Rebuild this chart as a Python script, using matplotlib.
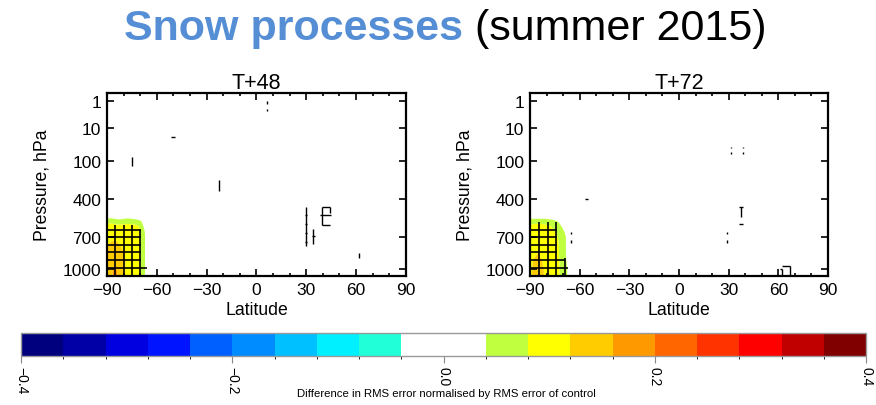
import numpy as np
import matplotlib
matplotlib.use("Agg")
import matplotlib.pyplot as plt
from matplotlib.colors import ListedColormap, BoundaryNorm
from matplotlib.cm import ScalarMappable
from matplotlib import font_manager

# ---------------- data ----------------
panel_titles = ["T+48", "T+72"]
lat_ticks = [-90, -60, -30, 0, 30, 60, 90]
p_ticks = [1, 10, 100, 400, 700, 1000]
p_tick_labels = ["1", "10", "100", "400", "700", "1000"]

blob_lats = [-90, -87.5, -85, -82.5, -80, -77.5, -75, -72.5, -70, -67.5, -65]
blob_levels = [480, 530, 560, 600, 650, 700, 775, 850, 925, 1000, 1080]

diff_t48 = [
    [0, 0, 0, 0, 0, 0, 0, 0, 0, 0, 0],
    [0.035, 0.035, 0.03, 0.025, 0.03, 0.035, 0.03, 0.025, 0.015, 0, 0],
    [0.07, 0.07, 0.065, 0.06, 0.065, 0.07, 0.065, 0.062, 0.05, 0.02, 0],
    [0.095, 0.095, 0.09, 0.09, 0.09, 0.09, 0.09, 0.088, 0.075, 0.03, 0],
    [0.10, 0.105, 0.105, 0.10, 0.10, 0.10, 0.095, 0.092, 0.082, 0.045, 0],
    [0.11, 0.115, 0.115, 0.11, 0.108, 0.102, 0.098, 0.092, 0.083, 0.048, 0],
    [0.118, 0.125, 0.128, 0.122, 0.115, 0.108, 0.10, 0.092, 0.083, 0.048, 0],
    [0.125, 0.135, 0.138, 0.13, 0.122, 0.112, 0.10, 0.092, 0.083, 0.048, 0],
    [0.13, 0.145, 0.152, 0.138, 0.125, 0.115, 0.10, 0.092, 0.083, 0.048, 0],
    [0.13, 0.152, 0.17, 0.142, 0.125, 0.112, 0.10, 0.09, 0.082, 0.048, 0],
    [0.13, 0.155, 0.175, 0.145, 0.125, 0.112, 0.10, 0.09, 0.082, 0.048, 0],
]
diff_t72 = [
    [0, 0, 0, 0, 0, 0, 0, 0, 0, 0, 0],
    [0.03, 0.03, 0.03, 0.03, 0.03, 0.025, 0.02, 0.01, 0, 0, 0],
    [0.065, 0.07, 0.07, 0.07, 0.065, 0.06, 0.05, 0.035, 0.01, 0, 0],
    [0.085, 0.09, 0.09, 0.09, 0.085, 0.08, 0.07, 0.055, 0.03, 0, 0],
    [0.09, 0.095, 0.095, 0.095, 0.09, 0.085, 0.08, 0.07, 0.048, 0.02, 0],
    [0.095, 0.10, 0.10, 0.10, 0.095, 0.09, 0.085, 0.078, 0.06, 0.03, 0],
    [0.10, 0.105, 0.11, 0.105, 0.10, 0.095, 0.088, 0.08, 0.062, 0.03, 0],
    [0.105, 0.115, 0.122, 0.112, 0.105, 0.095, 0.088, 0.08, 0.062, 0.03, 0],
    [0.11, 0.125, 0.135, 0.12, 0.11, 0.10, 0.088, 0.082, 0.062, 0.035, 0],
    [0.11, 0.13, 0.16, 0.125, 0.11, 0.10, 0.088, 0.082, 0.065, 0.04, 0],
    [0.11, 0.13, 0.165, 0.125, 0.11, 0.10, 0.088, 0.082, 0.065, 0.04, 0],
]

# significance hatching (vertical lines: lat, top pressure; horizontal lines: pressure, east edge)
sig_lats_t48 = [-85, -80, -75, -70]
sig_tops_t48 = [592, 592, 592, 630]
sig_levels_t48 = [630, 703, 766, 830, 903, 982]
sig_east_t48 = [-69.5, -69.5, -69.5, -69.5, -69.5, -66]

sig_lats_t72 = [-84.5, -79.3, -74.2, -69]
sig_tops_t72 = [560, 560, 560, 885]
sig_levels_t72 = [630, 703, 766, 830, 903, 982]
sig_east_t72 = [-73.5, -73.5, -73.5, -73.5, -68.9, -66.9]

# isolated significance marks: vertical (lat, p0, p1), horizontal (p, lat0, lat1)
marks_v_t48 = [(6.5, 1.0, 1.25), (6.5, 2.0, 2.4), (-75, 76, 120), (-22.5, 204, 305),
               (30, 451, 772), (34.3, 624, 757), (39.2, 451, 593), (44.2, 451, 490),
               (61.5, 840, 880)]
marks_h_t48 = [(19, -51.7, -49.0), (512, 29.3, 30.7), (578, 29.3, 30.7), (664, 29.3, 30.7),
               (743, 29.3, 30.7), (690, 33.6, 35.0), (451, 39.2, 44.2), (512, 38.5, 45.0),
               (593, 39.2, 44.2)]
marks_v_t72 = [(31.4, 38, 43), (31.4, 55, 63), (38.8, 38, 43), (38.8, 55, 63),
               (37.4, 451, 523), (-65.4, 655, 670), (-65.4, 730, 748),
               (28.8, 655, 670), (28.8, 730, 748), (62, 1000, 1077), (67.2, 969, 1077)]
marks_h_t72 = [(400, -56.8, -55.0), (451, 36.4, 38.8), (578, 36.4, 38.4),
               (969, 62.5, 67.2), (1000, 61.2, 62.5)]

cbar_ticks = [-0.4, -0.2, 0.0, 0.2, 0.4]
cbar_tick_labels = ["\u22120.4", "\u22120.2", "0.0", "0.2", "0.4"]
bounds = np.round(np.arange(-0.4, 0.4001, 0.04), 3)
colors = ["#00007F", "#0000A6", "#0000E0", "#0014FF", "#0060FF", "#008CFF",
          "#00C0FF", "#00F0FF", "#20FFD8", "#FFFFFF", "#FFFFFF", "#C0FF40",
          "#FFFF00", "#FFCC00", "#FF9900", "#FF6600", "#FF3300", "#FF0000",
          "#C00000", "#800000"]

# ---------------- style ----------------
names = {f.name for f in font_manager.fontManager.ttflist}
plt.rcParams["font.family"] = ["Liberation Sans", "DejaVu Sans"]
narrow = "Liberation Sans Narrow" in names

# nonlinear pressure axis (position of each labelled pressure, as fraction from top)
knot_logp = np.log10([0.1, 1, 10, 100, 400, 700, 1000, 2000])
knot_pos = np.array([-0.097, 0.046, 0.189, 0.369, 0.578, 0.785, 0.963, 1.309])


def fwd(p):
    p = np.clip(np.asarray(p, dtype=float), 1e-3, None)
    return np.interp(np.log10(p), knot_logp, knot_pos)


def inv(y):
    return 10 ** np.interp(np.asarray(y, dtype=float), knot_pos, knot_logp)


cmap = ListedColormap(colors)
norm = BoundaryNorm(bounds, cmap.N)

fig = plt.figure(figsize=(8.76, 4.06), dpi=100)
axes_rects = [[0.1221, 0.3177, 0.3413, 0.4507], [0.6050, 0.3177, 0.3402, 0.4507]]
fields = [diff_t48, diff_t72]
sigs = [(sig_lats_t48, sig_tops_t48, sig_levels_t48, sig_east_t48),
        (sig_lats_t72, sig_tops_t72, sig_levels_t72, sig_east_t72)]
marks = [(marks_v_t48, marks_h_t48), (marks_v_t72, marks_h_t72)]

for i in range(2):
    ax = fig.add_axes(axes_rects[i])
    ax.set_yscale("function", functions=(fwd, inv))
    ax.contourf(blob_lats, blob_levels, np.array(fields[i]), levels=bounds,
                cmap=cmap, norm=norm, antialiased=True)
    lw = 1.2
    slats, stops, slev, seast = sigs[i]
    for la, tp in zip(slats, stops):
        ax.plot([la, la], [tp, 1077], color="black", lw=lw, solid_capstyle="butt")
    for pv, ea in zip(slev, seast):
        ax.plot([-90, ea], [pv, pv], color="black", lw=lw, solid_capstyle="butt")
    mv, mh = marks[i]
    for la, p0, p1 in mv:
        ax.plot([la, la], [p0, p1], color="black", lw=1.0, solid_capstyle="butt")
    for pv, l0, l1 in mh:
        ax.plot([l0, l1], [pv, pv], color="black", lw=1.0, solid_capstyle="butt")

    ax.set_xlim(-90, 90)
    ax.set_ylim(1077, 0.48)
    ax.set_xticks(lat_ticks)
    ax.set_xticklabels([("\u2212%d" % -v) if v < 0 else "%d" % v for v in lat_ticks])
    ax.set_xticks(np.arange(-90, 91, 10), minor=True)
    ax.set_yticks(p_ticks)
    ax.set_yticklabels(p_tick_labels)
    ax.yaxis.set_minor_locator(matplotlib.ticker.NullLocator())
    ax.tick_params(which="both", direction="in", top=True, right=True,
                   labelsize=12.5, width=1.2, pad=4)
    ax.tick_params(which="major", length=5)
    ax.tick_params(which="minor", length=2.5)
    for s in ax.spines.values():
        s.set_linewidth(1.6)
    ax.set_xlabel("Latitude", fontsize=12.7, labelpad=3)
    ax.set_ylabel("Pressure, hPa", fontsize=12.7, labelpad=9)
    ax.set_title(panel_titles[i], fontsize=15.5, pad=3)

# colorbar
cax = fig.add_axes([0.024, 0.1207, 0.9646, 0.0567])
cb = fig.colorbar(ScalarMappable(norm=norm, cmap=cmap), cax=cax,
                  orientation="horizontal", boundaries=bounds, ticks=cbar_ticks)
cb.outline.set_edgecolor("#999999")
cb.outline.set_linewidth(1.0)
cax.set_xticklabels(cbar_tick_labels, rotation=-90, fontsize=10)
cax.tick_params(axis="x", direction="out", length=5, width=0.8, color="#888888", pad=2)
if narrow:
    fig.text(0.510, 0.022, "Difference in RMS error normalised by RMS error of control",
             ha="center", va="baseline", fontsize=10, family="Liberation Sans Narrow")
else:
    fig.text(0.510, 0.022, "Difference in RMS error normalised by RMS error of control",
             ha="center", va="baseline", fontsize=8.2)

# title: blue bold part followed by black part
t1 = fig.text(124 / 876, 0.901, "Snow processes", ha="left", va="baseline",
              fontsize=31, fontweight="bold", color="#558ED5")
fig.canvas.draw()
bb = t1.get_window_extent()
fig.text(bb.x1 / fig.bbox.width, 0.901, " (summer 2015)", ha="left", va="baseline",
         fontsize=31, color="black")

fig.savefig("out.png", dpi=100)
